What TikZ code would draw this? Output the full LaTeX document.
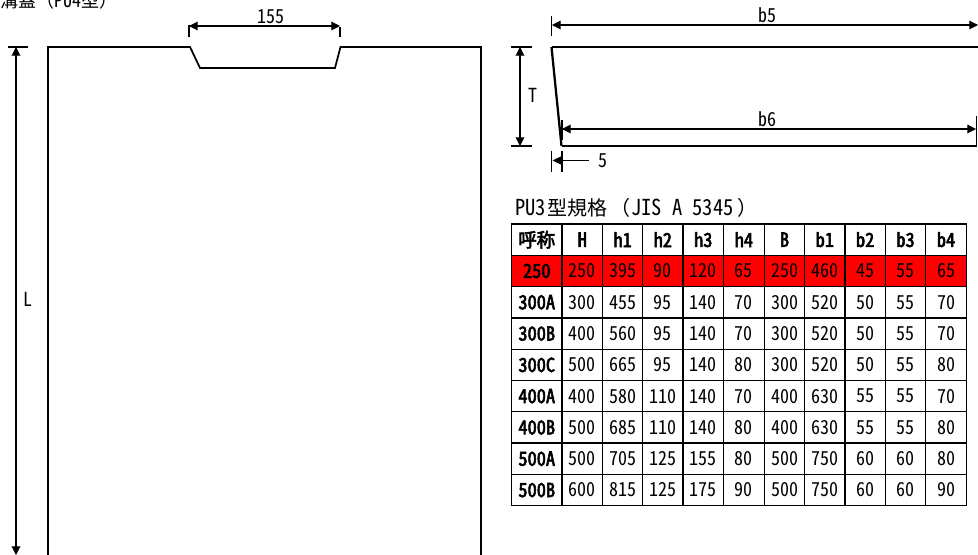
\documentclass[tikz,border=0pt]{standalone}
\usepackage{fontspec}
\usetikzlibrary{arrows.meta}
\newfontfamily\jpf[CharacterWidth=Half,FakeStretch=.93]{Noto Sans CJK JP}
\newfontfamily\jpb[CharacterWidth=Half,FakeStretch=.95,FakeBold=3]{Noto Sans CJK JP}
\newfontfamily\jpz{Noto Sans CJK JP}
\definecolor{rowred}{HTML}{FF0000}
\tikzset{
  shape line/.style={line width=1.3pt,line join=miter},
  thin shape/.style={line width=1.1pt},
  tick line/.style={line width=.8pt},
  dim line/.style={line width=.8pt,{Triangle[length=6.5pt,width=6.5pt]}-{Triangle[length=6.5pt,width=6.5pt]}},
  one line/.style={line width=.8pt,-{Triangle[length=7pt,width=6.5pt]}},
  lbl/.style={inner sep=0pt,font=\jpf\fontsize{14.5pt}{14.5pt}\selectfont},
  title/.style={inner sep=0pt,anchor=west,font=\jpf\fontsize{16.5pt}{16.5pt}\selectfont},
  cell/.style={draw=black,line width=1pt,inner sep=0pt,font=\jpf\fontsize{14.5pt}{14.5pt}\selectfont},
  hcell/.style={cell,font=\jpb\fontsize{14.5pt}{14.5pt}\selectfont},
}
\newcommand{\colxs}{{511.5,562,602.5,642.7,683,723.5,764.3,804.7,845,885.3,925.7,966.3}}
\begin{document}
\begin{tikzpicture}[x=.75pt,y=-.75pt]
\useasboundingbox (0,0) rectangle (978,555);
% left cover outline
\draw[shape line] (48,555) -- (48,47) -- (190,47) -- (200,68) -- (335,68) -- (340.5,47) -- (481,47) -- (481,555);
\node[title,font=\jpf\fontsize{14.5pt}{14.5pt}\selectfont] (ttop) at (0,1) {{\jpz\fontsize{13.5pt}{13.5pt}\selectfont 溝蓋（}PU4{\jpz\fontsize{13.5pt}{13.5pt}\selectfont 型）}};
% L dimension
\coordinate (ltop) at (16,47);
\coordinate (lbot) at (16,555);
\draw[tick line] (8,47) -- (28,47);
\draw[dim line] (ltop) -- (lbot);
\node[lbl] (lL) at (28,299) {L};
% 155 dimension
\coordinate (wa) at (189,26);
\coordinate (wb) at (340,26);
\draw[tick line] (189,25) -- (189,37);
\draw[tick line] (340,27) -- (340,37);
\draw[dim line] (wa) -- (wb);
\node[lbl] (l155) at (271,17) {155};
% right section
\draw[shape line] (978,47) -- (551.5,47);
\draw[line width=1.7pt] (551.5,47) -- (561.5,146);
\draw[thin shape] (561.5,146) -- (976.5,146) -- (976.5,116);
% b5
\coordinate (b5a) at (552,25);
\coordinate (b5b) at (978,25);
\draw[tick line] (551.5,16) -- (551.5,36);
\draw[dim line] (b5a) -- (b5b);
\node[lbl] (lb5) at (767,15.5) {b5};
% b6
\coordinate (b6a) at (562,129);
\coordinate (b6b) at (976,129);
\draw[dim line] (b6a) -- (b6b);
\draw[tick line] (562,120) -- (562,140);
\node[lbl] (lb6) at (767,119.5) {b6};
% T
\coordinate (ta) at (520,47);
\coordinate (tb) at (520,146);
\draw[tick line] (511,47) -- (532,47);
\draw[tick line] (511,146) -- (532,146);
\draw[dim line] (ta) -- (tb);
\node[lbl] (lT) at (533,95.5) {T};
% 5
\coordinate (fa) at (589,160.5);
\coordinate (fb) at (552.5,160.5);
\draw[tick line] (551.5,151) -- (551.5,172);
\draw[tick line] (562,151) -- (562,172);
\draw[one line] (fa) -- (fb);
\node[lbl] (l5) at (603,160.5) {5};
% heading
\node[title] (thead) at (515,207.5) {PU3\hspace{1pt}{\jpz\fontsize{15pt}{15pt}\selectfont 型規格\hspace{2.5pt}（}\hspace{.5pt}JIS A 5345\hspace{3pt}{\jpz\fontsize{15pt}{15pt}\selectfont ）}};
% table
\foreach \rowvals [count=\i from 0] in {
  {呼称,H,h1,h2,h3,h4,B,b1,b2,b3,b4},
  {250,250,395,90,120,65,250,460,45,55,65},
  {300A,300,455,95,140,70,300,520,50,55,70},
  {300B,400,560,95,140,70,300,520,50,55,70},
  {300C,500,665,95,140,80,300,520,50,55,80},
  {400A,400,580,110,140,70,400,630,55,55,70},
  {400B,500,685,110,140,80,400,630,55,55,80},
  {500A,500,705,125,155,80,500,750,60,60,80},
  {500B,600,815,125,175,90,500,750,60,60,90}} {
  \foreach \v [count=\j from 0] in \rowvals {
    \pgfmathsetmacro{\xl}{\colxs[\j]}
    \pgfmathsetmacro{\xr}{\colxs[\j+1]}
    \pgfmathsetmacro{\xc}{(\xl+\xr)/2}
    \pgfmathsetmacro{\yc}{224+31.3*(\i+.5)}
    \pgfmathsetmacro{\cw}{(\xr-\xl)*.75}
    \pgfmathsetmacro{\ch}{31.3*.75}
    \pgfmathtruncatemacro{\isb}{(\i==0 || \j==0) ? 1 : 0}
    \pgfmathtruncatemacro{\isr}{(\i==1) ? 1 : 0}
    \ifnum\isb=1 \def\cs{hcell}\else\def\cs{cell}\fi
    \ifnum\isr=1 \def\cf{rowred}\else\def\cf{white}\fi
    \node[\cs,fill=\cf,minimum width=\cw pt,minimum height=\ch pt] (c\i-\j) at (\xc,\yc) {\v};
  }
}
\end{tikzpicture}
\end{document}
